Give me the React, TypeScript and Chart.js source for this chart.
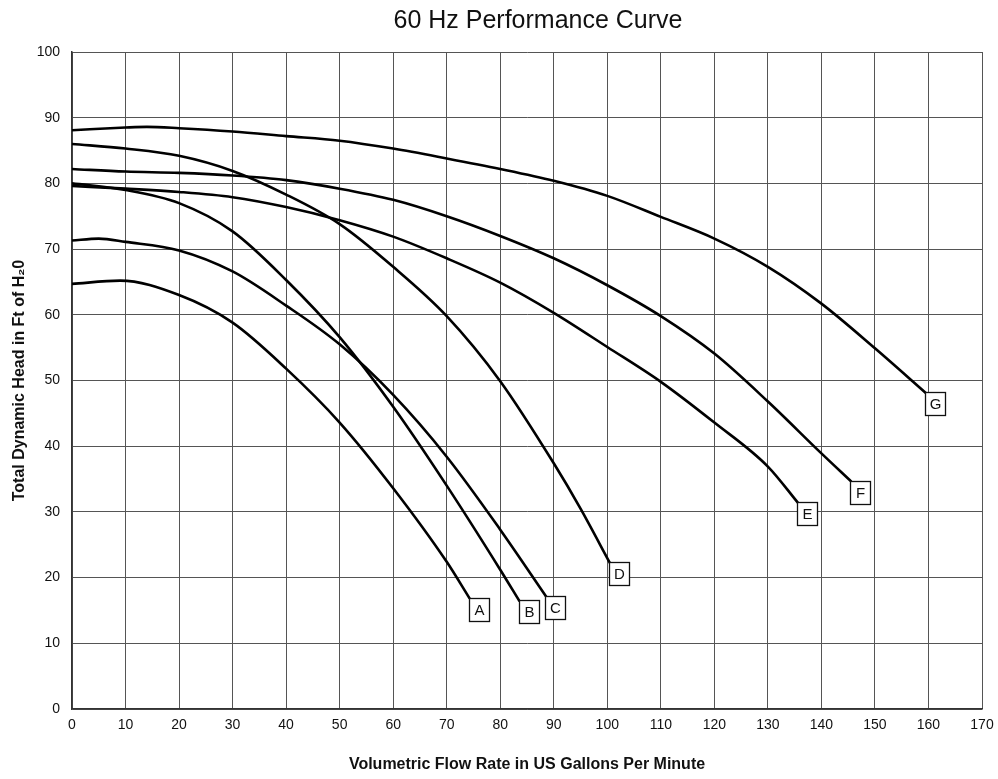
import React, { useEffect, useRef } from "react";
import { Chart, registerables } from "chart.js";

Chart.register(...registerables);

const chartTitle = "60 Hz Performance Curve";
const xTitle = "Volumetric Flow Rate in US Gallons Per Minute";
const yTitle = "Total Dynamic Head in Ft of H\u20820";

const curveLabels = ["A", "B", "C", "D", "E", "F", "G"];

const flowA = [0, 9, 20, 30, 40, 50, 60, 70, 74.3];
const headA = [64.7, 65.2, 63.0, 58.8, 51.8, 43.6, 33.6, 22.4, 16.8];

const flowB = [0, 10, 20, 30, 40, 50, 60, 70, 80, 83.6];
const headB = [80.0, 79.0, 77.0, 72.7, 65.3, 56.6, 46.0, 34.0, 21.2, 16.4];

const flowC = [0, 5, 10, 20, 30, 40, 50, 60, 70, 80, 88.6];
const headC = [71.3, 71.6, 71.1, 69.8, 66.6, 61.4, 55.5, 47.8, 38.4, 27.3, 17.1];

const flowD = [0, 10, 20, 30, 40, 50, 60, 70, 80, 90, 95, 100.5];
const headD = [86.0, 85.3, 84.2, 81.9, 78.3, 73.8, 67.3, 59.8, 49.9, 37.4, 30.5, 22.2];

const flowE = [0, 10, 20, 30, 40, 50, 60, 70, 80, 90, 100, 110, 120, 130, 135.7];
const headE = [79.6, 79.2, 78.7, 77.9, 76.4, 74.4, 71.9, 68.6, 64.9, 60.3, 55.1, 49.8, 43.6, 36.9, 31.3];

const flowF = [0, 10, 20, 30, 40, 50, 60, 70, 80, 90, 100, 110, 120, 130, 140, 145.6];
const headF = [82.2, 81.8, 81.6, 81.2, 80.5, 79.2, 77.5, 75.0, 72.0, 68.6, 64.5, 59.8, 54.1, 46.8, 38.9, 34.6];

const flowG = [0, 10, 14, 20, 30, 40, 50, 60, 70, 80, 90, 100, 110, 120, 130, 140, 150, 159.5];
const headG = [88.1, 88.5, 88.6, 88.4, 87.9, 87.2, 86.5, 85.3, 83.8, 82.2, 80.4, 78.1, 74.9, 71.6, 67.3, 61.7, 54.9, 48.1];

const flows = [flowA, flowB, flowC, flowD, flowE, flowF, flowG];
const heads = [headA, headB, headC, headD, headE, headF, headG];

const FONT = "Arial, 'Liberation Sans', Helvetica, sans-serif";

const boxLabelPlugin = {
  id: "boxLabels",
  afterDatasetsDraw(chart: any) {
    const ctx = chart.ctx;
    chart.data.datasets.forEach((ds: any, i: number) => {
      const meta = chart.getDatasetMeta(i);
      const pt = meta.data[meta.data.length - 1];
      if (!pt) return;
      const w = 20;
      const h = 23;
      const x = Math.round(pt.x) - 1;
      const y = Math.round(pt.y) - 1;
      ctx.save();
      ctx.fillStyle = "#ffffff";
      ctx.fillRect(x, y, w, h);
      ctx.strokeStyle = "#111";
      ctx.lineWidth = 1.3;
      ctx.strokeRect(x + 0.5, y + 0.5, w, h);
      ctx.fillStyle = "#111";
      ctx.font = "15px " + FONT;
      ctx.textAlign = "center";
      ctx.textBaseline = "middle";
      ctx.fillText(ds.label, x + w / 2 + 0.5, y + h / 2 + 1.5);
      ctx.restore();
    });
  },
};

const titlePlugin = {
  id: "topTitle",
  afterDraw(chart: any) {
    const ctx = chart.ctx;
    ctx.save();
    ctx.fillStyle = "#111";
    ctx.font = "25px " + FONT;
    ctx.textAlign = "center";
    ctx.textBaseline = "middle";
    ctx.fillText(chartTitle, 538, 21);
    ctx.restore();
  },
};

export default function App() {
  const ref = useRef<HTMLCanvasElement | null>(null);

  useEffect(() => {
    if (!ref.current) return;
    const datasets = curveLabels.map((lab, i) => ({
      label: lab,
      data: flows[i].map((f, j) => ({ x: f, y: heads[i][j] })),
      borderColor: "#000",
      backgroundColor: "#000",
      borderWidth: 2.6,
      pointRadius: 0,
      fill: false,
      cubicInterpolationMode: "monotone" as const,
    }));

    const chart = new Chart(ref.current, {
      type: "line",
      data: { datasets },
      options: {
        responsive: false,
        animation: false,
        devicePixelRatio: 1,
        layout: { padding: { left: 0, right: 16, top: 52, bottom: 0 } },
        plugins: {
          legend: { display: false },
          tooltip: { enabled: false },
          title: { display: false },
        },
        scales: {
          x: {
            type: "linear",
            min: 0,
            max: 170,
            ticks: {
              stepSize: 10,
              color: "#111",
              padding: 8,
              font: { family: FONT, size: 14 },
            },
            grid: { color: "#555", lineWidth: 1, drawTicks: false },
            border: { color: "#333", width: 1.5 },
            title: {
              display: true,
              text: xTitle,
              color: "#111",
              font: { family: FONT, size: 16, weight: "bold" },
              padding: { top: 0, bottom: 5 },
            },
            afterFit: (scale: any) => {
              scale.height = 70;
              scale.paddingRight = 8;
            },
          },
          y: {
            type: "linear",
            min: 0,
            max: 100,
            ticks: {
              stepSize: 10,
              color: "#111",
              padding: 12,
              font: { family: FONT, size: 14 },
            },
            grid: { color: "#555", lineWidth: 1, drawTicks: false },
            border: { color: "#333", width: 1.5 },
            title: {
              display: true,
              text: yTitle,
              color: "#111",
              font: { family: FONT, size: 16, weight: "bold" },
              padding: { top: 10, bottom: 0 },
            },
            afterFit: (scale: any) => {
              scale.width = 72;
            },
          },
        },
      },
      plugins: [boxLabelPlugin, titlePlugin],
    });
    return () => chart.destroy();
  }, []);

  return (
    <div style={{ position: "absolute", left: 0, top: 0, width: 998, height: 779, background: "#fff" }}>
      <canvas ref={ref} width={998} height={779} style={{ display: "block" }} />
    </div>
  );
}
